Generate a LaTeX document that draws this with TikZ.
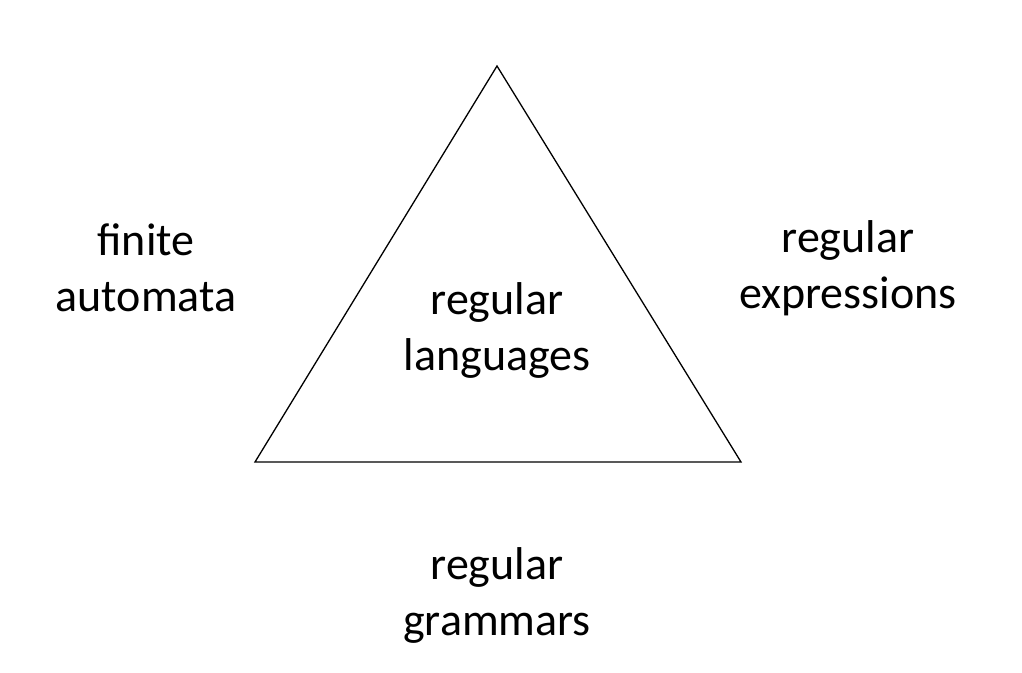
\documentclass[tikz,border=0pt]{standalone}
\usepackage{fontspec}
\setmainfont{Carlito}
\begin{document}
\begin{tikzpicture}[x=1pt,y=-1pt,
  lbl/.style={align=center,inner sep=0pt,font=\fontsize{46}{56}\selectfont}]
\useasboundingbox[fill=white] (0,0) rectangle (1022,672);
\coordinate (A) at (497,66);
\coordinate (B) at (255,462);
\coordinate (C) at (741,462);
\draw[line width=1.3pt,line join=miter] (A) -- (B) -- (C) -- cycle;
\node[lbl] (fa) at (146,268) {finite\\automata};
\node[lbl] (re) at (848,268) {regular\\expressions};
\node[lbl] (rl) at (497,330) {regular\\languages};
\node[lbl] (rg) at (497,595) {regular\\grammars};
\end{tikzpicture}
\end{document}
